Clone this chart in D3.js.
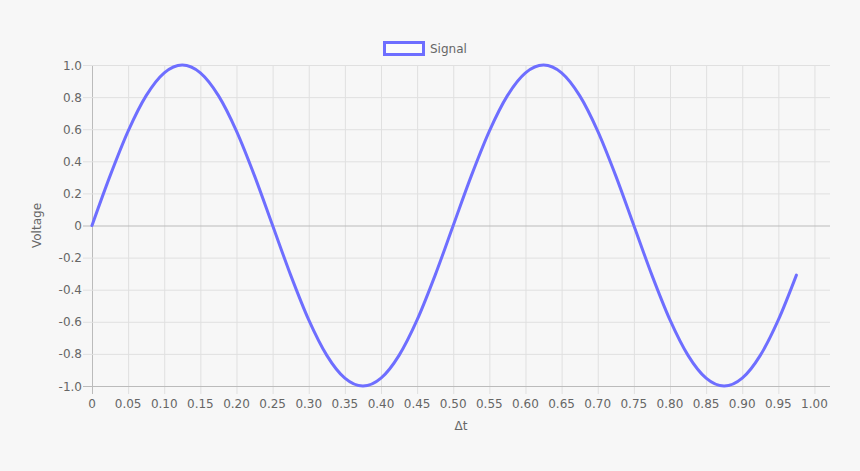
<!DOCTYPE html>
<html>
<head>
<meta charset="utf-8">
<script src="https://cdn.jsdelivr.net/npm/d3@7"></script>
<style>
  html, body { margin: 0; padding: 0; background: #f7f7f7; }
  svg { display: block; }
  text { font-family: "DejaVu Sans", sans-serif; font-size: 12px; fill: #666; }
</style>
</head>
<body>
<svg id="chart" width="860" height="471"></svg>
<script>
const seriesName = "Signal";
const xLabel = "\u0394t";
const yLabel = "Voltage";
const times = [0, 0.025, 0.05, 0.075, 0.1, 0.125, 0.15, 0.175, 0.2, 0.225,
  0.25, 0.275, 0.3, 0.325, 0.35, 0.375, 0.4, 0.425, 0.45, 0.475,
  0.5, 0.525, 0.55, 0.575, 0.6, 0.625, 0.65, 0.675, 0.7, 0.725,
  0.75, 0.775, 0.8, 0.825, 0.85, 0.875, 0.9, 0.925, 0.95, 0.975];
const voltages = [0, 0.309, 0.588, 0.809, 0.951, 1, 0.951, 0.809, 0.588, 0.309,
  0, -0.309, -0.588, -0.809, -0.951, -1, -0.951, -0.809, -0.588, -0.309,
  0, 0.309, 0.588, 0.809, 0.951, 1, 0.951, 0.809, 0.588, 0.309,
  0, -0.309, -0.588, -0.809, -0.951, -1, -0.951, -0.809, -0.588, -0.309];
const xTicks = [0, 0.05, 0.1, 0.15, 0.2, 0.25, 0.3, 0.35, 0.4, 0.45, 0.5,
  0.55, 0.6, 0.65, 0.7, 0.75, 0.8, 0.85, 0.9, 0.95, 1.0];
const yTicks = [-1, -0.8, -0.6, -0.4, -0.2, 0, 0.2, 0.4, 0.6, 0.8, 1.0];

const svg = d3.select("#chart");
const mL = 92, mR = 830, mT = 65, mB = 386;
const x = d3.scaleLinear().domain([0, 1.0215]).range([mL, mR]);
const y = d3.scaleLinear().domain([-1, 1]).range([mB, mT]);

const lineColor = "rgb(110,110,255)";

// grid
const g = svg.append("g");
g.selectAll(".vg").data(xTicks).enter().append("line")
  .attr("x1", d => x(d) + 0.5).attr("x2", d => x(d) + 0.5)
  .attr("y1", mT).attr("y2", mB + 8)
  .attr("stroke", d => d === 0 ? "#bbb" : "#e0e0e0").attr("stroke-width", 1);
g.selectAll(".hg").data(yTicks).enter().append("line")
  .attr("x1", mL - 9).attr("x2", mR)
  .attr("y1", d => y(d) + 0.5).attr("y2", d => y(d) + 0.5)
  .attr("stroke", d => (d === 0 || d === -1) ? "#bbb" : "#e0e0e0").attr("stroke-width", 1);

// tick labels
const fmtX = d => d === 0 ? "0" : d.toFixed(2);
const fmtY = d => d === 0 ? "0" : d.toFixed(1);
svg.append("g").selectAll("text").data(xTicks).enter().append("text")
  .attr("x", d => x(d)).attr("y", 408)
  .attr("text-anchor", "middle").text(fmtX);
svg.append("g").selectAll("text").data(yTicks).enter().append("text")
  .attr("x", 82).attr("y", d => y(d) + 4.5)
  .attr("text-anchor", "end").text(fmtY);

// axis titles
svg.append("text").attr("x", (mL + mR) / 2).attr("y", 430)
  .attr("text-anchor", "middle").text(xLabel);
svg.append("text").attr("transform", "translate(41," + ((mT + mB) / 2) + ") rotate(-90)")
  .attr("text-anchor", "middle").text(yLabel);

// line
const data = times.map((t, i) => ({ t, v: voltages[i] }));
const line = d3.line().x(d => x(d.t)).y(d => y(d.v)).curve(d3.curveMonotoneX);
svg.append("path").datum(data).attr("d", line)
  .attr("fill", "none").attr("stroke", lineColor).attr("stroke-width", 3)
  .attr("stroke-linejoin", "round").attr("stroke-linecap", "round");

// legend
svg.append("rect").attr("x", 384.5).attr("y", 42.5).attr("width", 39).attr("height", 12)
  .attr("fill", "rgba(255,255,255,0.5)").attr("stroke", lineColor).attr("stroke-width", 3);
svg.append("text").attr("x", 430).attr("y", 53).text(seriesName);
</script>
</body>
</html>
